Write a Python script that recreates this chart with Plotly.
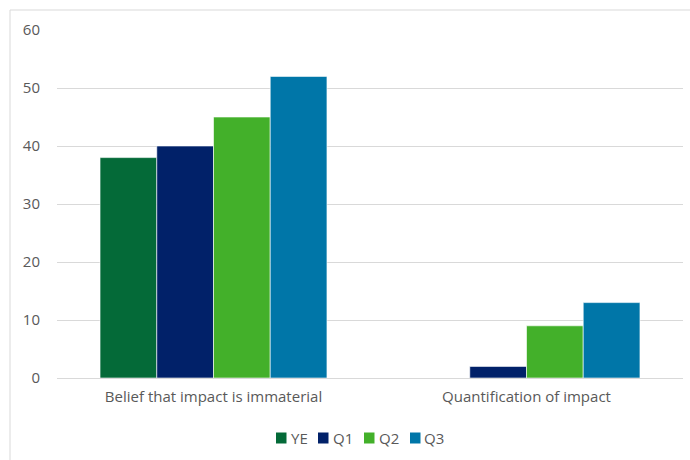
import plotly.graph_objects as go

categories = ["Belief that impact is immaterial", "Quantification of impact"]
series_names = ["YE", "Q1", "Q2", "Q3"]
ye_values = [38, 0]
q1_values = [40, 2]
q2_values = [45, 9]
q3_values = [52, 13]
series_values = [ye_values, q1_values, q2_values, q3_values]
series_colors = ["#046A38", "#012169", "#43B02A", "#0076A8"]
y_ticks = [0, 10, 20, 30, 40, 50, 60]

TEXT = "#595959"
FONT = "Open Sans"

fig = go.Figure()
for name, vals, color in zip(series_names, series_values, series_colors):
    fig.add_trace(go.Bar(
        name=name, x=categories, y=vals,
        marker=dict(color=color, line=dict(color="rgba(255,255,255,0.6)", width=1)),
        showlegend=False,
    ))

W, H = 690, 460
ml, mr, mt, mb = 57, 7, 30, 82
pw, ph = W - ml - mr, H - mt - mb


def px_x(x):
    return (x - ml) / pw


def px_y(y):
    return 1 - (y - mt) / ph


# outer frame around the chart
shapes = [dict(type="rect", xref="paper", yref="paper",
               x0=px_x(10), x1=px_x(W + 5), y0=px_y(H + 5), y1=px_y(10),
               line=dict(color="#d9d9d9", width=1), layer="below")]

# compact legend row: swatch + label for each series
annotations = []
legend_y = 438
swatch_left = [276, 318, 364, 410]
for name, color, x0 in zip(series_names, series_colors, swatch_left):
    shapes.append(dict(type="rect", xref="paper", yref="paper",
                       x0=px_x(x0), x1=px_x(x0 + 10.5),
                       y0=px_y(legend_y + 5.5), y1=px_y(legend_y - 5.5),
                       fillcolor=color, line=dict(width=0)))
    annotations.append(dict(text=name, xref="paper", yref="paper",
                            x=px_x(x0 + 12.5), y=px_y(legend_y),
                            xanchor="left", yanchor="middle", showarrow=False,
                            font=dict(family=FONT, size=15, color=TEXT)))

fig.update_layout(
    width=W, height=H,
    margin=dict(l=ml, r=mr, t=mt, b=mb, pad=0),
    barmode="group", bargap=0.275, bargroupgap=0,
    plot_bgcolor="white", paper_bgcolor="white",
    font=dict(family=FONT, size=15, color=TEXT),
    showlegend=False,
    xaxis=dict(showgrid=False, showline=False, ticks="", ticklabelstandoff=8,
               tickfont=dict(size=15)),
    yaxis=dict(range=[0, 60], tickvals=y_ticks, showgrid=True, gridcolor="#d9d9d9",
               gridwidth=1, zeroline=True, zerolinecolor="#d9d9d9", zerolinewidth=1,
               showline=False, ticks="", ticklabelstandoff=16, tickfont=dict(size=15)),
    shapes=shapes,
    annotations=annotations,
)

fig.write_html("out.html")
